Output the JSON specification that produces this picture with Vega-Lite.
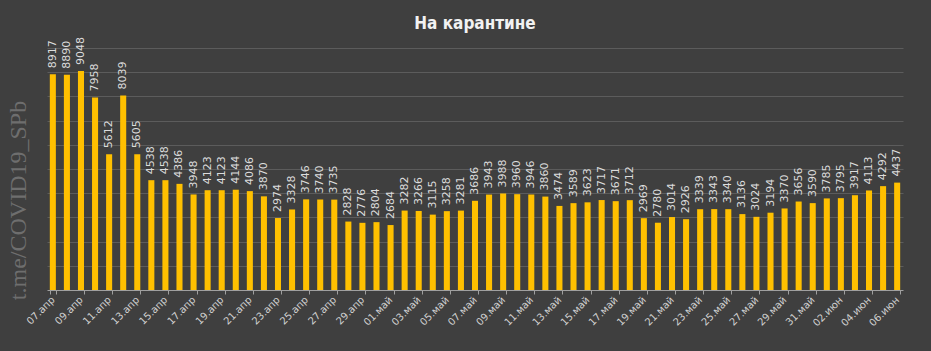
{
  "$schema": "https://vega.github.io/schema/vega-lite/v6.json",
  "autosize": "none",
  "width": 856,
  "height": 242,
  "padding": {"left": 47, "top": 48, "right": 28, "bottom": 61},
  "background": "#3f3f3f",
  "title": {
    "text": "На карантине",
    "anchor": "middle",
    "offset": 4,
    "font": "Liberation Sans Narrow, DejaVu Sans Condensed, sans-serif",
    "fontSize": 17,
    "fontWeight": "bold",
    "color": "#f2f2f2"
  },
  "config": {
    "view": {"stroke": null},
    "axis": {"labelFont": "DejaVu Sans", "titleFont": "Liberation Serif"}
  },
  "data": {
    "values": [
      {"d": "07.апр", "v": 8917}, {"d": "08.апр", "v": 8890}, {"d": "09.апр", "v": 9048},
      {"d": "10.апр", "v": 7958}, {"d": "11.апр", "v": 5612}, {"d": "12.апр", "v": 8039},
      {"d": "13.апр", "v": 5605}, {"d": "14.апр", "v": 4538}, {"d": "15.апр", "v": 4538},
      {"d": "16.апр", "v": 4386}, {"d": "17.апр", "v": 3948}, {"d": "18.апр", "v": 4123},
      {"d": "19.апр", "v": 4123}, {"d": "20.апр", "v": 4144}, {"d": "21.апр", "v": 4086},
      {"d": "22.апр", "v": 3870}, {"d": "23.апр", "v": 2974}, {"d": "24.апр", "v": 3328},
      {"d": "25.апр", "v": 3746}, {"d": "26.апр", "v": 3740}, {"d": "27.апр", "v": 3735},
      {"d": "28.апр", "v": 2828}, {"d": "29.апр", "v": 2776}, {"d": "30.апр", "v": 2804},
      {"d": "01.май", "v": 2684}, {"d": "02.май", "v": 3282}, {"d": "03.май", "v": 3266},
      {"d": "04.май", "v": 3115}, {"d": "05.май", "v": 3258}, {"d": "06.май", "v": 3281},
      {"d": "07.май", "v": 3686}, {"d": "08.май", "v": 3943}, {"d": "09.май", "v": 3988},
      {"d": "10.май", "v": 3960}, {"d": "11.май", "v": 3946}, {"d": "12.май", "v": 3860},
      {"d": "13.май", "v": 3474}, {"d": "14.май", "v": 3589}, {"d": "15.май", "v": 3623},
      {"d": "16.май", "v": 3717}, {"d": "17.май", "v": 3671}, {"d": "18.май", "v": 3712},
      {"d": "19.май", "v": 2969}, {"d": "20.май", "v": 2780}, {"d": "21.май", "v": 3014},
      {"d": "22.май", "v": 2926}, {"d": "23.май", "v": 3339}, {"d": "24.май", "v": 3343},
      {"d": "25.май", "v": 3340}, {"d": "26.май", "v": 3136}, {"d": "27.май", "v": 3024},
      {"d": "28.май", "v": 3194}, {"d": "29.май", "v": 3370}, {"d": "30.май", "v": 3656},
      {"d": "31.май", "v": 3590}, {"d": "01.июн", "v": 3785}, {"d": "02.июн", "v": 3795},
      {"d": "03.июн", "v": 3917}, {"d": "04.июн", "v": 4113}, {"d": "05.июн", "v": 4292},
      {"d": "06.июн", "v": 4437}
    ]
  },
  "encoding": {
    "x": {
      "field": "d",
      "type": "ordinal",
      "sort": null,
      "scale": {"paddingInner": 0.57, "paddingOuter": 0.2},
      "axis": {
        "title": null,
        "values": ["07.апр", "09.апр", "11.апр", "13.апр", "15.апр", "17.апр", "19.апр", "21.апр", "23.апр", "25.апр", "27.апр", "29.апр", "01.май", "03.май", "05.май", "07.май", "09.май", "11.май", "13.май", "15.май", "17.май", "19.май", "21.май", "23.май", "25.май", "27.май", "29.май", "31.май", "02.июн", "04.июн", "06.июн"],
        "labelAngle": 315,
        "labelAlign": "right",
        "labelBaseline": "middle",
        "labelFontSize": 10,
        "labelColor": "#d0d0d0",
        "labelPadding": 4,
        "labelOverlap": false,
        "domainColor": "#a0a0a0",
        "tickColor": "#a0a0a0",
        "tickSize": 4,
        "tickBand": "extent",
        "grid": false
      }
    },
    "y": {
      "field": "v",
      "type": "quantitative",
      "scale": {"domain": [0, 10000], "nice": false},
      "axis": {
        "title": "t.me/COVID19_SPb",
        "titleFont": "Liberation Serif",
        "titleFontSize": 24,
        "titleFontWeight": "normal",
        "titleColor": "#6e6e6e",
        "titleX": -29,
        "titleY": 152,
        "titleAngle": 270,
        "titleAlign": "center",
        "titleBaseline": "middle",
        "labels": false,
        "ticks": false,
        "domain": false,
        "values": [1000, 2000, 3000, 4000, 5000, 6000, 7000, 8000, 9000, 10000],
        "gridColor": "#5c5c5c",
        "gridWidth": 1
      }
    }
  },
  "layer": [
    {"mark": {"type": "bar", "color": "#FFC000"}},
    {
      "mark": {
        "type": "text",
        "angle": 270,
        "align": "left",
        "baseline": "middle",
        "dx": 6,
        "font": "DejaVu Sans",
        "fontSize": 11,
        "color": "#dcdcdc"
      },
      "encoding": {"text": {"field": "v", "type": "quantitative", "format": "d"}}
    }
  ]
}
